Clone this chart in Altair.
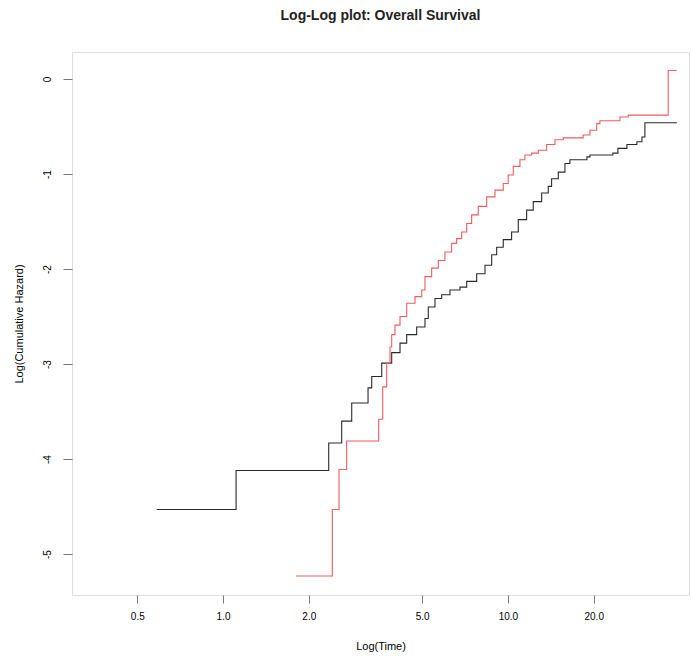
import altair as alt
import pandas as pd

# Log-log survival curves: step functions of log(-log S(t)) against time (log axis)
black_time = [0.585, 1.111, 2.349, 2.609, 2.829, 3.228, 3.325, 3.605, 3.908, 4.180,
              4.412, 4.782, 5.114, 5.253, 5.545, 5.853, 6.258, 6.785, 7.163, 7.767,
              8.306, 8.768, 9.129, 9.627, 10.30, 10.87, 11.63, 12.27, 13.13, 13.85,
              14.23, 15.02, 15.85, 16.50, 18.93, 19.40, 23.35, 24.32, 26.16, 28.35,
              29.53, 30.25, 39.17]
black_value = [-4.53, -4.12, -3.83, -3.60, -3.41, -3.25, -3.13, -2.99, -2.88, -2.78,
               -2.69, -2.61, -2.52, -2.40, -2.31, -2.27, -2.22, -2.19, -2.13, -2.05,
               -1.96, -1.85, -1.77, -1.69, -1.61, -1.48, -1.38, -1.29, -1.20, -1.13,
               -1.05, -0.98, -0.89, -0.85, -0.82, -0.80, -0.78, -0.73, -0.69, -0.66,
               -0.61, -0.46, -0.46]

red_time = [1.804, 2.418, 2.553, 2.716, 3.518, 3.634, 3.753, 3.855, 3.908, 4.013,
            4.180, 4.412, 4.718, 4.980, 5.114, 5.398, 5.693, 6.010, 6.346, 6.607,
            6.880, 7.163, 7.458, 7.867, 8.421, 9.004, 9.627, 10.02, 10.44, 11.02,
            11.47, 12.11, 12.78, 13.67, 14.62, 15.63, 18.37, 19.40, 20.48, 21.03,
            24.72, 26.43, 36.52, 39.08]
red_value = [-5.23, -4.53, -4.11, -3.81, -3.58, -3.24, -2.99, -2.82, -2.69, -2.59,
             -2.50, -2.36, -2.29, -2.22, -2.08, -1.99, -1.91, -1.82, -1.73, -1.68,
             -1.61, -1.52, -1.43, -1.34, -1.24, -1.17, -1.10, -1.01, -0.92, -0.85,
             -0.80, -0.78, -0.75, -0.69, -0.64, -0.62, -0.59, -0.54, -0.47, -0.44,
             -0.40, -0.38, 0.09, 0.09]

x_ticks = [0.5, 1, 2, 5, 10, 20]
y_ticks = [0, -1, -2, -3, -4, -5]

df = pd.concat([
    pd.DataFrame({"time": black_time, "value": black_value, "group": "A"}),
    pd.DataFrame({"time": red_time, "value": red_value, "group": "B"}),
])

chart = (
    alt.Chart(df)
    .mark_line(interpolate="step-after", strokeWidth=1.1)
    .encode(
        x=alt.X(
            "time:Q",
            scale=alt.Scale(type="log", domain=[0.295, 43.2], nice=False),
            axis=alt.Axis(
                values=x_ticks, format=".1f", title="Log(Time)", grid=False,
                domain=False, tickSize=8, tickColor="#777", labelPadding=8,
                titlePadding=19, labelFlush=False, titleFontWeight="normal",
            ),
        ),
        y=alt.Y(
            "value:Q",
            scale=alt.Scale(domain=[-5.43, 0.284], nice=False, zero=False),
            axis=alt.Axis(
                values=y_ticks, labelExpr="'' + datum.value", title="Log(Cumulative Hazard)",
                grid=False, domain=False, tickSize=9, tickColor="#777",
                labelAngle=-90, labelAlign="center", labelBaseline="bottom",
                labelPadding=11, titlePadding=18, titleFontWeight="normal",
            ),
        ),
        color=alt.Color(
            "group:N",
            scale=alt.Scale(domain=["A", "B"], range=["#2a2a2a", "#ee5c62"]),
            legend=None,
        ),
        detail="group:N",
    )
    .properties(
        width=617,
        height=543,
        padding={"left": 72, "top": 52, "right": 2, "bottom": 63},
        autosize="none",
        title=alt.TitleParams(
            "Log-Log plot: Overall Survival", fontSize=14, fontWeight="bold",
            font="Liberation Sans", color="#222", offset=29, anchor="middle",
        ),
    )
    .configure_view(stroke="#7a7a7a", strokeWidth=1.6)
    .configure_axis(
        labelFont="Liberation Sans", titleFont="Liberation Sans",
        labelFontSize=11, titleFontSize=12, labelColor="#555", titleColor="#555",
    )
    .configure(background="white")
)

chart.save("out.html", embed_options={"renderer": "svg", "actions": False})
